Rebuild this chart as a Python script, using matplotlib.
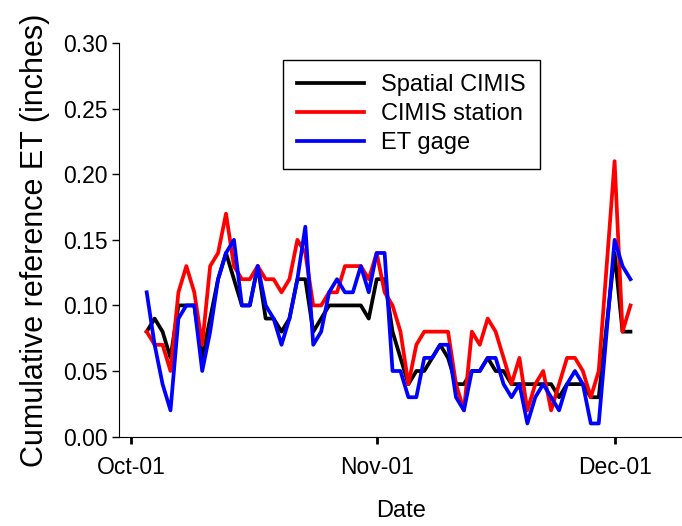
import numpy as np
import matplotlib
matplotlib.use("Agg")
import matplotlib.pyplot as plt
import matplotlib.dates as mdates

plt.rcParams['font.family'] = ['Liberation Sans', 'DejaVu Sans']

# daily values, Oct 3 2001 .. Dec 3 2001
dates = np.arange('2001-10-03', '2001-12-04', dtype='datetime64[D]')

spatial_cimis = [0.08, 0.09, 0.08, 0.06, 0.10, 0.10, 0.10, 0.06, 0.09, 0.12,
                 0.14, 0.12, 0.10, 0.10, 0.13, 0.09, 0.09, 0.08, 0.09, 0.12,
                 0.12, 0.08, 0.09, 0.10, 0.10, 0.10, 0.10, 0.10, 0.09,
                 0.12, 0.12, 0.08, 0.06, 0.04, 0.05, 0.05, 0.06, 0.07, 0.06,
                 0.04, 0.04, 0.05, 0.05, 0.06, 0.05, 0.05, 0.04, 0.04, 0.04,
                 0.04, 0.04, 0.04, 0.03, 0.04, 0.04, 0.04, 0.03, 0.03, 0.085,
                 0.14, 0.08, 0.08]
cimis_station = [0.08, 0.07, 0.07, 0.05, 0.11, 0.13, 0.11, 0.07, 0.13, 0.14,
                 0.17, 0.13, 0.12, 0.12, 0.13, 0.12, 0.12, 0.11, 0.12, 0.15,
                 0.14, 0.10, 0.10, 0.11, 0.11, 0.13, 0.13, 0.13, 0.12,
                 0.14, 0.11, 0.10, 0.08, 0.04, 0.07, 0.08, 0.08, 0.08, 0.08,
                 0.04, 0.02, 0.08, 0.07, 0.09, 0.08, 0.06, 0.04, 0.06, 0.02,
                 0.04, 0.05, 0.02, 0.04, 0.06, 0.06, 0.05, 0.03, 0.05, 0.13,
                 0.21, 0.08, 0.10]
et_gage = [0.11, 0.07, 0.04, 0.02, 0.09, 0.10, 0.10, 0.05, 0.08, 0.12,
           0.14, 0.15, 0.10, 0.10, 0.13, 0.10, 0.09, 0.07, 0.09, 0.12,
           0.16, 0.07, 0.08, 0.11, 0.12, 0.11, 0.11, 0.13, 0.11,
           0.14, 0.14, 0.05, 0.05, 0.03, 0.03, 0.06, 0.06, 0.07, 0.07,
           0.03, 0.02, 0.05, 0.05, 0.06, 0.06, 0.04, 0.03, 0.04, 0.01,
           0.03, 0.04, 0.03, 0.02, 0.04, 0.05, 0.04, 0.01, 0.01, 0.08,
           0.15, 0.13, 0.12]

fig = plt.figure(figsize=(6.82, 5.26), dpi=100)
ax = fig.add_axes([0.175, 0.170, 0.825, 0.748])

lw = 2.7
ax.plot(dates, spatial_cimis, color='black', lw=lw, label='Spatial CIMIS')
ax.plot(dates, cimis_station, color='#FF0000', lw=lw, label='CIMIS station')
ax.plot(dates, et_gage, color='#0000FF', lw=lw, label='ET gage')

ax.set_xlim(mdates.date2num(np.datetime64('2001-10-01')) - 1.45,
            mdates.date2num(np.datetime64('2001-12-01')) + 8.5)
ax.set_ylim(0, 0.30)
ax.set_yticks(np.arange(0, 0.31, 0.05))
ax.yaxis.set_major_formatter(matplotlib.ticker.FormatStrFormatter('%.2f'))
ax.xaxis.set_major_locator(mdates.MonthLocator())
ax.xaxis.set_major_formatter(mdates.DateFormatter('%b-%y'))

ax.spines['top'].set_visible(False)
ax.spines['right'].set_visible(False)
ax.tick_params(axis='both', labelsize=16.5, direction='out', length=5, width=1)
ax.tick_params(axis='x', width=2, pad=9)

ax.set_xlabel('Date', fontsize=17, labelpad=15)
ax.set_ylabel('Cumulative reference ET (inches)', fontsize=22, labelpad=9)

leg = ax.legend(loc='upper left', bbox_to_anchor=(283 / 682, 1 - 60 / 526),
                bbox_transform=fig.transFigure, fontsize=17, fancybox=False,
                edgecolor='black', framealpha=1, handlelength=2.85,
                borderpad=0.6, labelspacing=0.3, handletextpad=0.7,
                borderaxespad=0)
leg.get_frame().set_linewidth(1)

fig.savefig('out.png', dpi=100)
